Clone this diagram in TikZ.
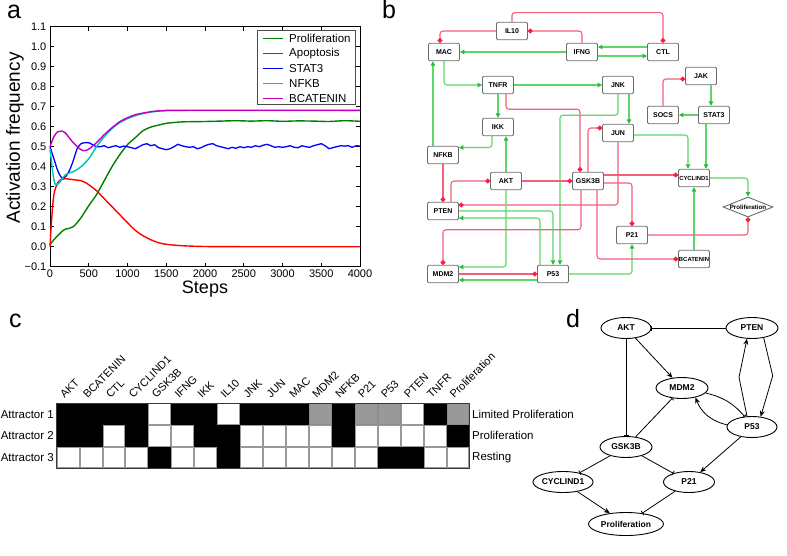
\documentclass[tikz,border=0pt]{standalone}
\usepackage{fontspec}
\setmainfont{Liberation Sans}
\usetikzlibrary{arrows.meta,shapes.geometric}
\definecolor{rl}{HTML}{F0607A}
\definecolor{rd}{HTML}{FF1A40}
\definecolor{gl}{HTML}{5CD66A}
\definecolor{gd}{HTML}{22C035}
\definecolor{mgreen}{rgb}{0,0.5,0}
\definecolor{mcyan}{rgb}{0,0.75,0.75}
\definecolor{mmag}{rgb}{0.75,0,0.75}
\definecolor{cB}{gray}{0}
\definecolor{cW}{gray}{1}
\definecolor{cG}{gray}{0.6}
\definecolor{dB}{gray}{0}
\definecolor{dW}{gray}{0.6}
\definecolor{dG}{gray}{0.55}
\newcommand\fs[1]{\fontsize{#1}{#1}\selectfont}
\begin{document}
\begin{tikzpicture}[x=1pt,y=-1pt,
  bbox/.style={draw=gray!85!black, fill=white, rounded corners=1.2pt, minimum width=31pt, minimum height=17.5pt, inner sep=0pt, line width=0.9pt, font=\fs{7}\bfseries},
  act/.style={draw=gl, line width=1.1pt, rounded corners=3pt, -{Triangle[length=4.5pt,width=4.5pt,color=gd]}},
  inh/.style={draw=rl, line width=1.1pt, rounded corners=3pt, -{Circle[length=4.6pt,color=rd]}},
  el/.style={ellipse, draw, line width=0.9pt, minimum width=50pt, minimum height=21pt, inner sep=0pt, font=\fs{8.5}\bfseries},
  darr/.style={line width=0.8pt, -{Stealth[length=6pt,width=5pt]}},
  dinh/.style={line width=0.8pt, -{Bar[width=5pt]}},
  ticklbl/.style={font=\fs{11}},
  panel/.style={font=\fs{25}, anchor=base west, inner sep=0pt},
  leg/.style={font=\fs{11.5}, anchor=west, inner sep=0pt}]
\useasboundingbox (0,0) rectangle (787,555);

% ---------------- panel a ----------------
\node[panel] (la) at (7,18.5) {a};
\begin{scope}[shift={(50,246.7)},x=0.0775pt,y=200pt]
  \draw[line width=0.8pt] (0,-0.1) rectangle (4000,1.1);
  \foreach \v/\l in {-0.1/{−0.1},0.0/0.0,0.1/0.1,0.2/0.2,0.3/0.3,0.4/0.4,0.5/0.5,0.6/0.6,0.7/0.7,0.8/0.8,0.9/0.9,1.0/1.0,1.1/1.1}{
    \draw[line width=0.6pt] (0,\v) -- ++(4pt,0);
    \draw[line width=0.6pt] (4000,\v) -- ++(-4pt,0);
    \node[ticklbl,anchor=east,inner sep=0pt] at ([xshift=-3.5pt]0,\v) {\l};
  }
  \foreach \s in {0,500,1000,1500,2000,2500,3000,3500,4000}{
    \draw[line width=0.6pt] (\s,-0.1) -- ++(0,4pt);
    \draw[line width=0.6pt] (\s,1.1) -- ++(0,-4pt);
    \node[ticklbl,anchor=north,inner sep=0pt] at ([yshift=-2.5pt]\s,-0.1) {\s};
  }
  \draw[mgreen,line width=1.4pt] plot[smooth,tension=0.5] coordinates {(0,0.01) (50,0.035) (100,0.055) (150,0.075) (200,0.088) (250,0.092) (300,0.1) (350,0.12) (400,0.145) (450,0.175) (500,0.205) (600,0.26) (700,0.33) (800,0.4) (900,0.46) (1000,0.51) (1100,0.545) (1200,0.58) (1300,0.598) (1400,0.608) (1500,0.617) (1600,0.621) (1700,0.624) (1800,0.625) (2000,0.626) (2200,0.628) (2400,0.63) (2600,0.628) (2800,0.63) (3000,0.627) (3200,0.629) (3400,0.628) (3600,0.626) (3800,0.63) (4000,0.627)};
  \draw[red,line width=1.4pt] plot[smooth,tension=0.5] coordinates {(0,0.0) (20,0.13) (50,0.26) (100,0.32) (150,0.337) (200,0.34) (300,0.335) (400,0.33) (450,0.322) (500,0.31) (600,0.28) (700,0.24) (800,0.2) (900,0.16) (1000,0.12) (1100,0.082) (1200,0.055) (1300,0.035) (1400,0.02) (1500,0.012) (1700,0.005) (2000,0.001) (2500,0) (4000,0)};
  \draw[blue,line width=1.3pt,line join=round] plot[smooth,tension=0.4] coordinates {(0,0.5) (50,0.44) (100,0.38) (150,0.345) (200,0.35) (250,0.38) (300,0.43) (350,0.49) (400,0.515) (450,0.52) (500,0.52) (550,0.51) (600,0.5) (650,0.5)}
    -- plot coordinates {(700,0.505) (750,0.495) (800,0.5) (850,0.505) (900,0.497) (950,0.503) (1000,0.5) (1050,0.495) (1100,0.49) (1150,0.5) (1200,0.51) (1250,0.515) (1300,0.505) (1350,0.51) (1400,0.495) (1450,0.49) (1500,0.485) (1550,0.49) (1600,0.5) (1650,0.512) (1700,0.505) (1750,0.5) (1800,0.497) (1850,0.5) (1900,0.49) (1950,0.495) (2000,0.505) (2050,0.512) (2100,0.515) (2150,0.505) (2200,0.5) (2250,0.495) (2300,0.49) (2350,0.497) (2400,0.492) (2450,0.5) (2500,0.495) (2550,0.5) (2600,0.497) (2650,0.505) (2700,0.5) (2750,0.507) (2800,0.512) (2850,0.505) (2900,0.497) (2950,0.5) (3000,0.497) (3050,0.5) (3100,0.505) (3150,0.497) (3200,0.495) (3250,0.505) (3300,0.5) (3350,0.497) (3400,0.505) (3450,0.51) (3500,0.515) (3550,0.505) (3600,0.49) (3650,0.495) (3700,0.5) (3750,0.505) (3800,0.503) (3850,0.505) (3900,0.497) (3950,0.505) (4000,0.503)};
  \draw[mcyan,line width=1.4pt] plot[smooth,tension=0.5] coordinates {(0,0.49) (40,0.36) (70,0.31) (120,0.32) (200,0.36) (300,0.375) (400,0.4) (500,0.44) (600,0.5) (700,0.55) (800,0.59) (900,0.62) (1000,0.64) (1100,0.655) (1200,0.666) (1300,0.673) (1400,0.678) (1500,0.68) (1700,0.681) (4000,0.681)};
  \draw[mmag,line width=1.4pt] plot[smooth,tension=0.5] coordinates {(0,0.5) (50,0.55) (100,0.575) (150,0.578) (200,0.568) (300,0.52) (400,0.485) (450,0.48) (500,0.488) (600,0.52) (700,0.56) (800,0.595) (900,0.625) (1000,0.645) (1100,0.66) (1200,0.668) (1300,0.675) (1400,0.679) (1500,0.681) (1700,0.682) (4000,0.682)};
\end{scope}
\node[font=\fs{19},rotate=90] (yl) at (15,138) {Activation frequency};
\node[font=\fs{18},anchor=base] (xl) at (205,293.5) {Steps};
% legend
\draw[fill=white,draw=gray!60!black,line width=0.8pt] (257,30) rectangle (355,104);
\foreach \y/\c/\t in {38.5/mgreen/Proliferation,53.5/red/Apoptosis,68.5/blue/STAT3,83.5/mcyan/NFKB,98.5/mmag/BCATENIN}{
  \draw[\c,line width=1.4pt] (263,\y) -- (283,\y);
  \node[leg] at (289,\y) {\t};
}

% ---------------- panel b ----------------
\node[panel] (lb) at (382,18.5) {b};
\node[bbox] (IL10) at (512,31) {IL10};
\node[bbox] (MAC) at (444,52) {MAC};
\node[bbox] (IFNG) at (582,52) {IFNG};
\node[bbox] (CTL) at (663,52) {CTL};
\node[bbox] (TNFR) at (498,85) {TNFR};
\node[bbox] (JNK) at (618,85) {JNK};
\node[bbox] (JAK) at (701,76) {JAK};
\node[bbox] (SOCS) at (663,115) {SOCS};
\node[bbox] (STAT3) at (714,115) {STAT3};
\node[bbox] (IKK) at (498,127) {IKK};
\node[bbox] (JUN) at (618,133) {JUN};
\node[bbox] (NFKB) at (443,155) {NFKB};
\node[bbox] (AKT) at (506,181) {AKT};
\node[bbox] (GSK3B) at (588,181) {GSK3B};
\node[bbox,font=\fs{5.9}\bfseries] (CYCLIND1) at (694,178) {CYCLIND1};
\node[diamond, draw=gray!85!black, fill=white, minimum width=50pt, minimum height=20pt, inner sep=0pt, line width=0.9pt, font=\fs{6.2}\bfseries, aspect=2.5] (PROL) at (748,207) {Proliferation};
\node[bbox] (PTEN) at (443,211) {PTEN};
\node[bbox] (P21) at (632,235) {P21};
\node[bbox] (MDM2) at (443,274) {MDM2};
\node[bbox] (P53) at (553,274) {P53};
\node[bbox,font=\fs{5.9}\bfseries] (BCAT) at (694,259) {BCATENIN};

\draw[inh] (IL10.west) -| ([xshift=-4pt]MAC.north);
\draw[inh] (IFNG.north) |- (IL10.east);
\draw[inh] (IL10.north) -- ++(0,-9.25) -| (CTL.north);
\draw[act] (IFNG.west) -- (MAC.east);
\draw[act] ([yshift=5pt]CTL.west) -- ([yshift=5pt]IFNG.east);
\draw[act] ([yshift=-4pt]IFNG.east) -- ([yshift=-4pt]CTL.west);
\draw[act] (MAC.south) |- (TNFR.west);
\draw[act] (TNFR.east) -- (JNK.west);
\draw[act] (TNFR.south) -- (IKK.north);
\draw[inh] ([xshift=8pt]TNFR.south) -- ++(0,15) -| ([xshift=-8pt]GSK3B.north);
\draw[act] (JNK.south) -- ++(0,21) -| ([xshift=7pt]P53.north);
\draw[act] ([xshift=11pt]JNK.south) -- ([xshift=11pt]JUN.north);
\draw[inh] (JUN.south) |- ([yshift=6pt]PTEN.east);
\draw[inh] (GSK3B.north) |- ([yshift=5pt]JUN.west);
\draw[act] ([yshift=-2pt]JUN.east) -| ([xshift=-6pt]CYCLIND1.north);
\draw[act] ([xshift=-8pt]STAT3.south) -- ([xshift=12pt]CYCLIND1.north);
\draw[act] (STAT3.west) -- (SOCS.east);
\draw[act] ([xshift=10pt]JAK.south) -- ([xshift=-3pt]STAT3.north);
\draw[inh] (SOCS.north) |- ([yshift=-3pt]JAK.west);
\draw[act] ([xshift=-6pt]IKK.south) |- ([yshift=7.5pt]NFKB.east);
\draw[act] (AKT.north) -- ([xshift=8pt]IKK.south);
\draw[act] ([xshift=-10pt]NFKB.north) -- ([xshift=-11pt]MAC.south);
\draw[inh] (NFKB.south) -- (PTEN.north);
\draw[inh] ([xshift=8pt]PTEN.north) |- (AKT.west);
\draw[inh] (AKT.east) -- (GSK3B.west);
\draw[act] (AKT.south) |- ([yshift=7pt]MDM2.east);
\draw[inh] ([xshift=-7pt]GSK3B.south) -- ++(0,39.5) -| (MDM2.north);
\draw[act] (PTEN.east) -| (P53.north);
\draw[act] ([xshift=-13pt]P53.north) |- ([yshift=-7pt]PTEN.east);
\draw[inh] (MDM2.east) -- (P53.west);
\draw[act] ([yshift=-6pt]P53.west) -- ([yshift=-6pt]MDM2.east);
\draw[act] (P53.east) -| (P21.south);
\draw[inh] ([yshift=6pt]GSK3B.east) -- ([yshift=3pt]CYCLIND1.west);
\draw[inh] ([yshift=-2pt]GSK3B.east) -| (P21.north);
\draw[inh] ([xshift=9pt]GSK3B.south) |- (BCAT.west);
\draw[act] (BCAT.north) -- (CYCLIND1.south);
\draw[act] (CYCLIND1.east) -| (PROL.north);
\draw[inh] (P21.east) -| (PROL.south);

% ---------------- panel c ----------------
\node[panel] (lc) at (9,327) {c};
\foreach \row [count=\r from 0] in {{B,B,B,B,W,B,B,W,B,B,B,G,B,G,G,W,B,G},{B,B,W,B,W,W,B,B,W,W,W,W,B,W,W,W,W,B},{W,W,W,W,B,W,W,B,W,W,W,W,W,W,B,B,W,W}}{
  \foreach \c [count=\i from 0] in \row {
    \draw[fill=c\c,draw=d\c,line width=1pt] (57.2+22.93*\i,403.8+21.67*\r) rectangle ++(21.93,20.67);
  }
}
\draw[draw=gray!45!black,line width=1pt] (56.7,403.3) rectangle (469.3,468.3);
\foreach \t [count=\i from 0] in {AKT,BCATENIN,CTL,CYCLIND1,GSK3B,IFNG,IKK,IL10,JNK,JUN,MAC,MDM2,NFKB,P21,P53,PTEN,TNFR,Proliferation}{
  \node[font=\fs{11},rotate=45,anchor=base west,inner sep=0pt] at (64.5+22.93*\i,399) {\t};
}
\foreach \t [count=\r from 0] in {Attractor 1,Attractor 2,Attractor 3}{
  \node[font=\fs{11.5},anchor=east,inner sep=0pt] at (54,414.2+21.67*\r) {\t};
}
\foreach \t [count=\r from 0] in {Limited Proliferation,Proliferation,Resting}{
  \node[font=\fs{11.5},anchor=west,inner sep=0pt] at (472,414.2+21.67*\r) {\t};
}

% ---------------- panel d ----------------
\node[panel] (ld) at (566,327) {d};
\node[el] (dAKT) at (626,328) {AKT};
\node[el,minimum width=52pt] (dPTEN) at (752,328) {PTEN};
\node[el,minimum width=52pt] (dMDM2) at (682,388) {MDM2};
\node[el] (dP53) at (752,427) {P53};
\node[el,minimum width=52pt] (dGSK) at (626,447) {GSK3B};
\node[el,minimum width=48pt] (dCYC) at (563,482) {CYCLIND1};
\node[el,minimum width=51pt] (dP21) at (689,482) {P21};
\node[el,minimum width=75pt,minimum height=23pt] (dPRO) at (626,524) {Proliferation};

\draw[dinh] (dPTEN) -- (dAKT);
\draw[darr] (dAKT) -- (dMDM2);
\draw[dinh] (dAKT) -- (dGSK);
\draw[dinh] (dGSK) -- (dMDM2);
\draw[dinh] (dMDM2.-12) to[bend left=18] (dP53.125);
\draw[darr] (dP53.175) to[bend left=28] (dMDM2.-35);
\draw[darr] (dP53.115) -- ++(-8,-39) -- (dPTEN.-115);
\draw[darr] (dPTEN.-40) -- ++(9,38) -- (dP53.50);
\draw[dinh] (dGSK) -- (dCYC);
\draw[dinh] (dGSK) -- (dP21);
\draw[darr] (dP53) -- (dP21);
\draw[darr] (dCYC) -- (dPRO);
\draw[dinh] (dP21) -- (dPRO);
\end{tikzpicture}
\end{document}
